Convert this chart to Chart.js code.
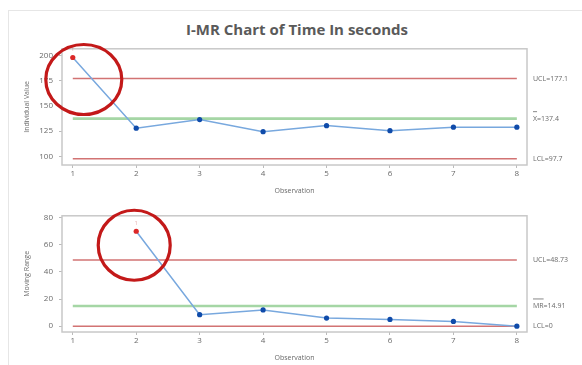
<!DOCTYPE html>
<html>
<head>
<meta charset="utf-8">
<script src="https://cdn.jsdelivr.net/npm/chart.js@4"></script>
<style>
  body { margin: 0; background: #fff; }
  #wrap { position: relative; width: 582px; height: 365px; overflow: hidden; }
  #frame { position: absolute; left: 8px; top: 10px; width: 580px; height: 360px; border: 1px solid #e6e6e6; }
  #title { position: absolute; left: 0; top: 19px; width: 594px; text-align: center;
           font: bold 15px "Open Sans", sans-serif; color: #5a5a5a; }
  canvas { position: absolute; left: 0; }
</style>
</head>
<body>
<div id="wrap">
  <div id="frame"></div>
  <div id="title">I-MR Chart of Time In seconds</div>
  <canvas id="iChart" width="582" height="160" style="top:38px"></canvas>
  <canvas id="mrChart" width="582" height="160" style="top:205px"></canvas>
</div>
<script>
// 観測データ
const observations = [1, 2, 3, 4, 5, 6, 7, 8];
const individualValues = [198, 128, 136.5, 124.5, 130.5, 125.5, 129, 129];
const movingRanges = [null, 70, 8.5, 12, 6, 5, 3.5, 0];

// 管理限界
const iLimits = [177.1, 137.4, 97.7];          // UCL, 中心, LCL
const iLimitLabels = ['UCL=177.1', 'X=137.4', 'LCL=97.7'];
const mrLimits = [48.73, 14.91, 0];
const mrLimitLabels = ['UCL=48.73', 'MR=14.91', 'LCL=0'];

const iTicks = [100, 125, 150, 175, 200];
const mrTicks = [0, 20, 40, 60, 80];
const xTicks = [1, 2, 3, 4, 5, 6, 7, 8];

const outOfControlI = [0];   // 管理外れの点
const outOfControlMR = [1];

const red = 'rgb(210,115,115)';
const green = 'rgb(165,214,165)';
const gray = '#6a6a6a';

function limitLine(value, color, width) {
  return {
    data: [{x: observations[0], y: value}, {x: observations[observations.length - 1], y: value}],
    borderColor: color, borderWidth: width, pointRadius: 0, order: 2
  };
}

// 枠・右側ラベル・赤丸を描くプラグイン
function decorPlugin(labels, limits, flagged, circle) {
  return {
    id: 'decor',
    afterDraw(chart) {
      const {ctx, chartArea: a, scales} = chart;
      ctx.save();
      ctx.strokeStyle = '#c8c8c8';
      ctx.lineWidth = 1.5;
      ctx.strokeRect(a.left, a.top, a.right - a.left, a.bottom - a.top);

      ctx.fillStyle = gray;
      ctx.font = '7px "Open Sans", sans-serif';
      ctx.textBaseline = 'middle';
      labels.forEach((t, i) => {
        const y = scales.y.getPixelForValue(limits[i]);
        ctx.fillText(t, a.right + 6, y);
        if (i === 1) {
          const w = ctx.measureText(t.split('=')[0]).width;
          ctx.strokeStyle = gray;
          ctx.lineWidth = 0.8;
          ctx.beginPath();
          ctx.moveTo(a.right + 6, y - 7);
          ctx.lineTo(a.right + 6 + w, y - 7);
          ctx.stroke();
        }
      });

      const meta = chart.getDatasetMeta(0);
      flagged.forEach(i => {
        const p = meta.data[i];
        ctx.fillStyle = 'rgba(200,80,80,0.45)';
        ctx.font = '6px "Open Sans", sans-serif';
        ctx.textAlign = 'center';
        ctx.fillText('1', p.x, p.y - 8);
        ctx.strokeStyle = 'rgb(195,25,25)';
        ctx.lineWidth = 3.2;
        ctx.beginPath();
        ctx.ellipse(p.x + circle.dx, p.y + circle.dy, circle.rx, circle.ry, 0, 0, Math.PI * 2);
        ctx.stroke();
      });
      ctx.restore();
    }
  };
}

function makeChart(id, values, limits, labels, ticks, yMin, yMax, yTitle, flagged, padTop, circle) {
  return new Chart(document.getElementById(id), {
    type: 'line',
    data: {
      datasets: [
        {
          data: observations.map((x, i) => ({x: x, y: values[i]})),
          borderColor: 'rgb(120,168,222)',
          borderWidth: 1.5,
          pointRadius: 2.6,
          pointBackgroundColor: values.map((v, i) => flagged.includes(i) ? 'rgb(220,40,40)' : 'rgb(15,75,170)'),
          pointBorderWidth: 0,
          spanGaps: false,
          order: 1
        },
        limitLine(limits[0], red, 1.5),
        limitLine(limits[1], green, 2.6),
        limitLine(limits[2], red, 1.5)
      ]
    },
    options: {
      responsive: false,
      animation: false,
      layout: {padding: {top: padTop, right: 55, left: 23, bottom: 0}},
      plugins: {legend: {display: false}, tooltip: {enabled: false}},
      scales: {
        x: {
          type: 'linear', min: 0.83, max: 8.16,
          afterBuildTicks: s => { s.ticks = xTicks.map(v => ({value: v})); },
          afterFit: s => { s.height = 33; },
          grid: {drawOnChartArea: false, tickLength: 3, color: '#bbb'},
          border: {display: false},
          ticks: {color: gray, font: {size: 8, family: 'Open Sans'}, padding: 1, maxRotation: 0},
          title: {display: true, text: 'Observation', color: gray, font: {size: 7, family: 'Open Sans'}, padding: {top: 0, bottom: 3}}
        },
        y: {
          min: yMin, max: yMax,
          afterBuildTicks: s => { s.ticks = ticks.map(v => ({value: v})); },
          afterFit: s => { s.width = 39; },
          grid: {drawOnChartArea: false, tickLength: 3, color: '#bbb'},
          border: {display: false},
          ticks: {color: gray, font: {size: 8, family: 'Open Sans'}, padding: 6},
          title: {display: true, text: yTitle, color: gray, font: {size: 7, family: 'Open Sans'}, padding: 0}
        }
      }
    },
    plugins: [decorPlugin(labels, limits, flagged, circle)]
  });
}

makeChart('iChart', individualValues, iLimits, iLimitLabels, iTicks, 91.5, 206.6,
  'Individual Value', outOfControlI, 5, {dx: 11, dy: 22, rx: 38, ry: 35});
makeChart('mrChart', movingRanges, mrLimits, mrLimitLabels, mrTicks, -4.3, 81.4,
  'Moving Range', outOfControlMR, 7, {dx: -2, dy: 14, rx: 36, ry: 35});
</script>
</body>
</html>
